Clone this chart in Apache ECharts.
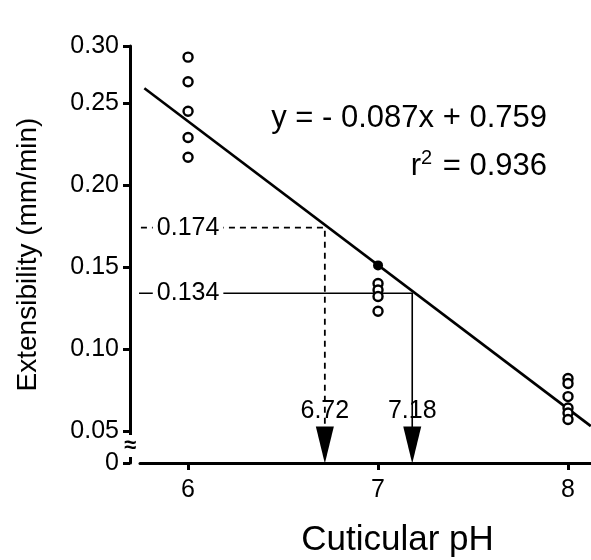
<!DOCTYPE html>
<html><head><meta charset="utf-8">
<script src="https://cdn.jsdelivr.net/npm/echarts@6/dist/echarts.min.js"></script>
<style>html,body{margin:0;padding:0;background:#fff}#c{width:591px;height:560px}</style>
</head><body><div id="c"></div>
<script>
// ---- data ----
const xTickValues = [6, 7, 8];
const yTickValues = [0.05, 0.10, 0.15, 0.20, 0.25];
const ph6 = [0.278, 0.263, 0.245, 0.229, 0.217];
const ph7 = [0.140, 0.136, 0.132, 0.123];
const ph7Filled = [0.151];
const ph8 = [0.082, 0.079, 0.071, 0.064, 0.061, 0.057];
const fitLine = [[5.77, 0.259], [8.12, 0.053]];   // y = -0.087x + 0.759 as drawn
const readDashed = {pH: 6.72, ext: 0.174};
const readSolid = {pH: 7.18, ext: 0.134};
const labelPH = 6.0;          // x where the 0.174 / 0.134 labels sit
const yAxisPH = 5.694;        // x where the (offset) y axis line sits
const xMin = 5.747, xMax = 8.121;
const yMin = 0.0305, yMax = 0.2848;   // axis ends drawn as "0" and "0.30"
const equationText = 'y = - 0.087x + 0.759';
const r2Text = ' = 0.936';

const FONT = 'Liberation Sans, Arial, Helvetica, sans-serif';
const chart = echarts.init(document.getElementById('c'), null, {renderer: 'canvas'});

const openCircle = {color: '#fff', borderColor: '#000', borderWidth: 2.4, opacity: 1};
function readLine(r, dashed) {
  return {
    type: 'line', clip: false, symbol: 'none', silent: true, z: 2,
    lineStyle: {color: '#000', width: dashed ? 1.8 : 1.6, type: dashed ? [6, 5] : 'solid'},
    data: [[yAxisPH, r.ext], [r.pH, r.ext], [r.pH, 0.05]]
  };
}
function readLabel(r) {
  return {
    type: 'scatter', symbolSize: 0, z: 5, clip: false, itemStyle: {opacity: 1},
    data: [[labelPH, r.ext]],
    label: {show: true, position: 'inside', formatter: p => p.value[1].toFixed(3),
      fontFamily: FONT, fontSize: 25, color: '#000', backgroundColor: '#fff', padding: [0, 4]}
  };
}
function arrow(r) {
  return {
    type: 'scatter', z: 6, clip: false,
    symbol: 'path://M0 0L16 0L8 37Z', symbolKeepAspect: false,
    symbolSize: [18, 37], symbolOffset: [0, -18],
    itemStyle: {color: '#000', opacity: 1},
    data: [[r.pH, yMin]],
    label: {show: true, position: 'top', distance: 3, formatter: p => p.value[0].toFixed(2),
      fontFamily: FONT, fontSize: 25, color: '#000'}
  };
}

chart.setOption({
  animation: false,
  backgroundColor: '#fff',
  grid: {left: 140, right: 0, top: 46, bottom: 97, containLabel: false, outerBoundsMode: 'none'},
  xAxis: {
    type: 'value', min: xMin, max: xMax,
    axisLine: {lineStyle: {color: '#000', width: 3}},
    axisTick: {show: true, length: 7, lineStyle: {width: 3, color: '#000'}, customValues: xTickValues},
    axisLabel: {fontFamily: FONT, fontSize: 25, color: '#000', margin: 15, customValues: xTickValues},
    splitLine: {show: false},
    name: 'Cuticular pH', nameLocation: 'middle', nameGap: 60,
    nameTextStyle: {fontFamily: FONT, fontSize: 35, color: '#000', padding: [0, 0, 0, 64]}
  },
  yAxis: {
    type: 'value', min: yMin, max: yMax, offset: 10,
    axisLine: {lineStyle: {color: '#000', width: 3}},
    axisTick: {show: true, length: 7, lineStyle: {width: 3, color: '#000'},
      customValues: [yMin].concat(yTickValues, [yMax])},
    axisLabel: {fontFamily: FONT, fontSize: 25, color: '#000', margin: 11,
      customValues: [yMin].concat(yTickValues, [yMax]),
      formatter: v => v < 0.04 ? '0' : (v > 0.28 ? '0.30' : v.toFixed(2))},
    splitLine: {show: false},
    name: 'Extensibility (mm/min)', nameLocation: 'middle', nameGap: 88,
    nameTextStyle: {fontFamily: FONT, fontSize: 28, color: '#000'}
  },
  series: [
    {type: 'line', data: fitLine, symbol: 'none', z: 3, lineStyle: {color: '#000', width: 2.6}},
    readLine(readDashed, true),
    readLine(readSolid, false),
    readLabel(readDashed),
    readLabel(readSolid),
    arrow(readDashed),
    arrow(readSolid),
    {type: 'scatter', z: 4, symbol: 'circle', symbolSize: 9, itemStyle: openCircle,
      data: ph6.map(v => [6, v]).concat(ph7.map(v => [7, v]), ph8.map(v => [8, v]))},
    {type: 'scatter', z: 4, symbol: 'circle', symbolSize: 10, itemStyle: {color: '#000', opacity: 1},
      data: ph7Filled.map(v => [7, v])}
  ],
  graphic: [
    {type: 'text', x: 547, y: 118, z: 10, style: {text: equationText, align: 'right', verticalAlign: 'middle',
      font: '31px ' + FONT, fill: '#000'}},
    {type: 'text', x: 547, y: 166, z: 10, style: {text: '{a|r}{s|2}{a|' + r2Text + '}', align: 'right', verticalAlign: 'middle',
      fill: '#000', rich: {a: {fontFamily: FONT, fontSize: 31, fill: '#000'},
        s: {fontFamily: FONT, fontSize: 20, fill: '#000', verticalAlign: 'top', padding: [0, 2, 16, 0]}}}},
    {type: 'text', x: 130, y: 446, z: 10, style: {text: '≈', align: 'center', verticalAlign: 'middle',
      font: 'bold 22px ' + FONT, fill: '#000', backgroundColor: '#fff'}}
  ]
});
</script></body></html>
